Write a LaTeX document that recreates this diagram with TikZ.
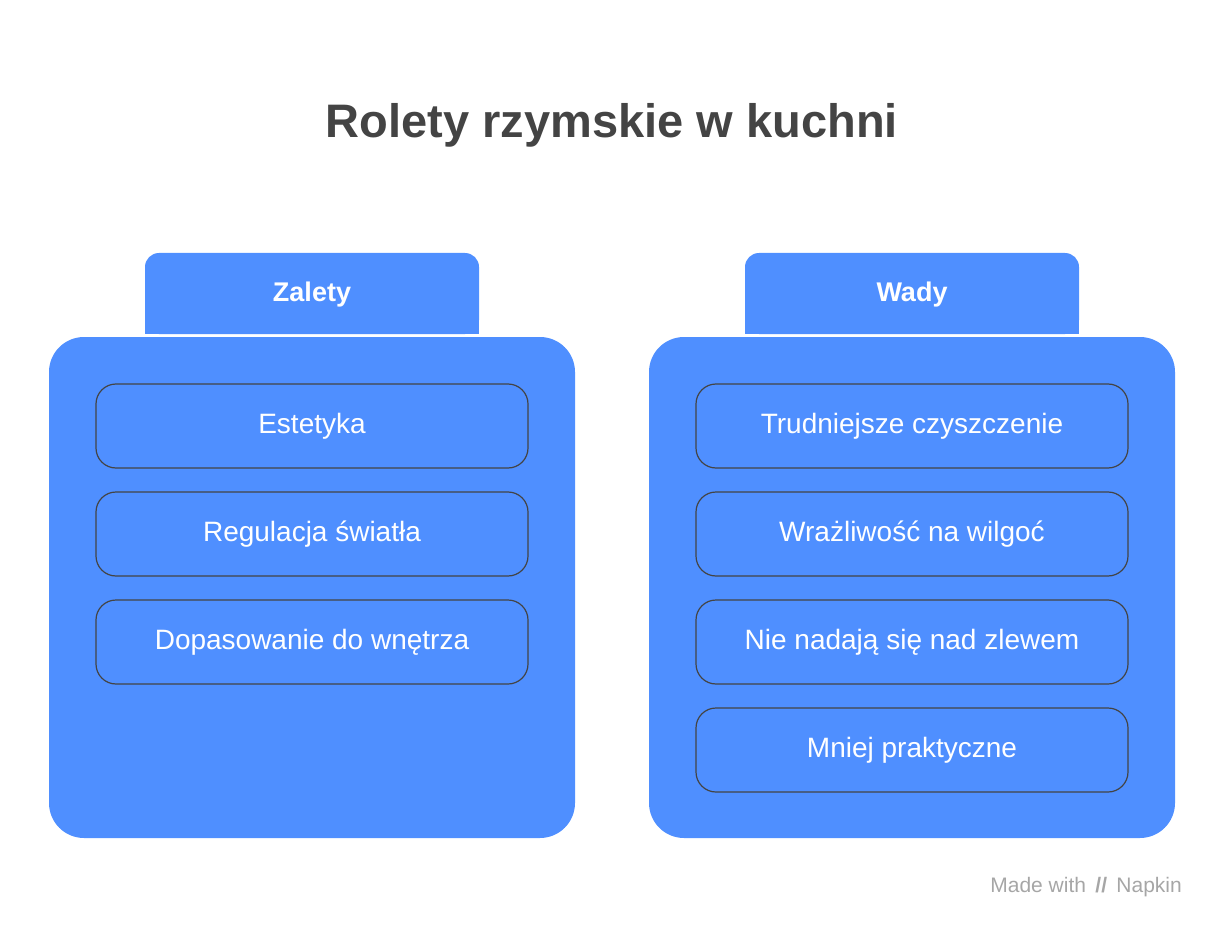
\documentclass[tikz,border=0pt]{standalone}
\usepackage{fontspec}
\setmainfont{Liberation Sans}
\definecolor{nblue}{HTML}{4F8FFF}
\definecolor{ndark}{HTML}{444444}
\begin{document}
\begin{tikzpicture}[x=1pt,y=-1pt,
  panel/.style={fill=nblue,draw=none,rounded corners=35pt},
  item/.style={draw=ndark,line width=1.2pt,rounded corners=20pt,minimum width=432pt,minimum height=84pt,text=white,font=\fontsize{28}{32}\selectfont,inner sep=0pt},
  tablabel/.style={text=white,font=\bfseries\fontsize{27}{30}\selectfont}]
\useasboundingbox (0,0) rectangle (1224,936);
\node[text=ndark,font=\bfseries\fontsize{47}{52}\selectfont] (title) at (612,125) {Rolety rzymskie w kuchni};
% left
\fill[nblue,rounded corners=14pt] (145,253) rectangle (479,334);
\fill[nblue] (145,300) rectangle (479,334);
\node[tablabel] (zt) at (312,295) {Zalety};
\fill[panel] (49,337) rectangle (575,838);
\node[item] (l1) at (312,426) {Estetyka};
\node[item] (l2) at (312,534) {Regulacja światła};
\node[item] (l3) at (312,642) {Dopasowanie do wnętrza};
% right
\fill[nblue,rounded corners=14pt] (745,253) rectangle (1079,334);
\fill[nblue] (745,300) rectangle (1079,334);
\node[tablabel] (wt) at (912,295) {Wady};
\fill[panel] (649,337) rectangle (1175,838);
\node[item] (r1) at (912,426) {Trudniejsze czyszczenie};
\node[item] (r2) at (912,534) {Wrażliwość na wilgoć};
\node[item] (r3) at (912,642) {Nie nadają się nad zlewem};
\node[item] (r4) at (912,750) {Mniej praktyczne};
\node[text=black!35,font=\fontsize{21}{24}\selectfont,anchor=east,inner sep=0pt] (foot) at (1182,887) {Made with \,\textbf{//}\, Napkin};
\end{tikzpicture}
\end{document}
